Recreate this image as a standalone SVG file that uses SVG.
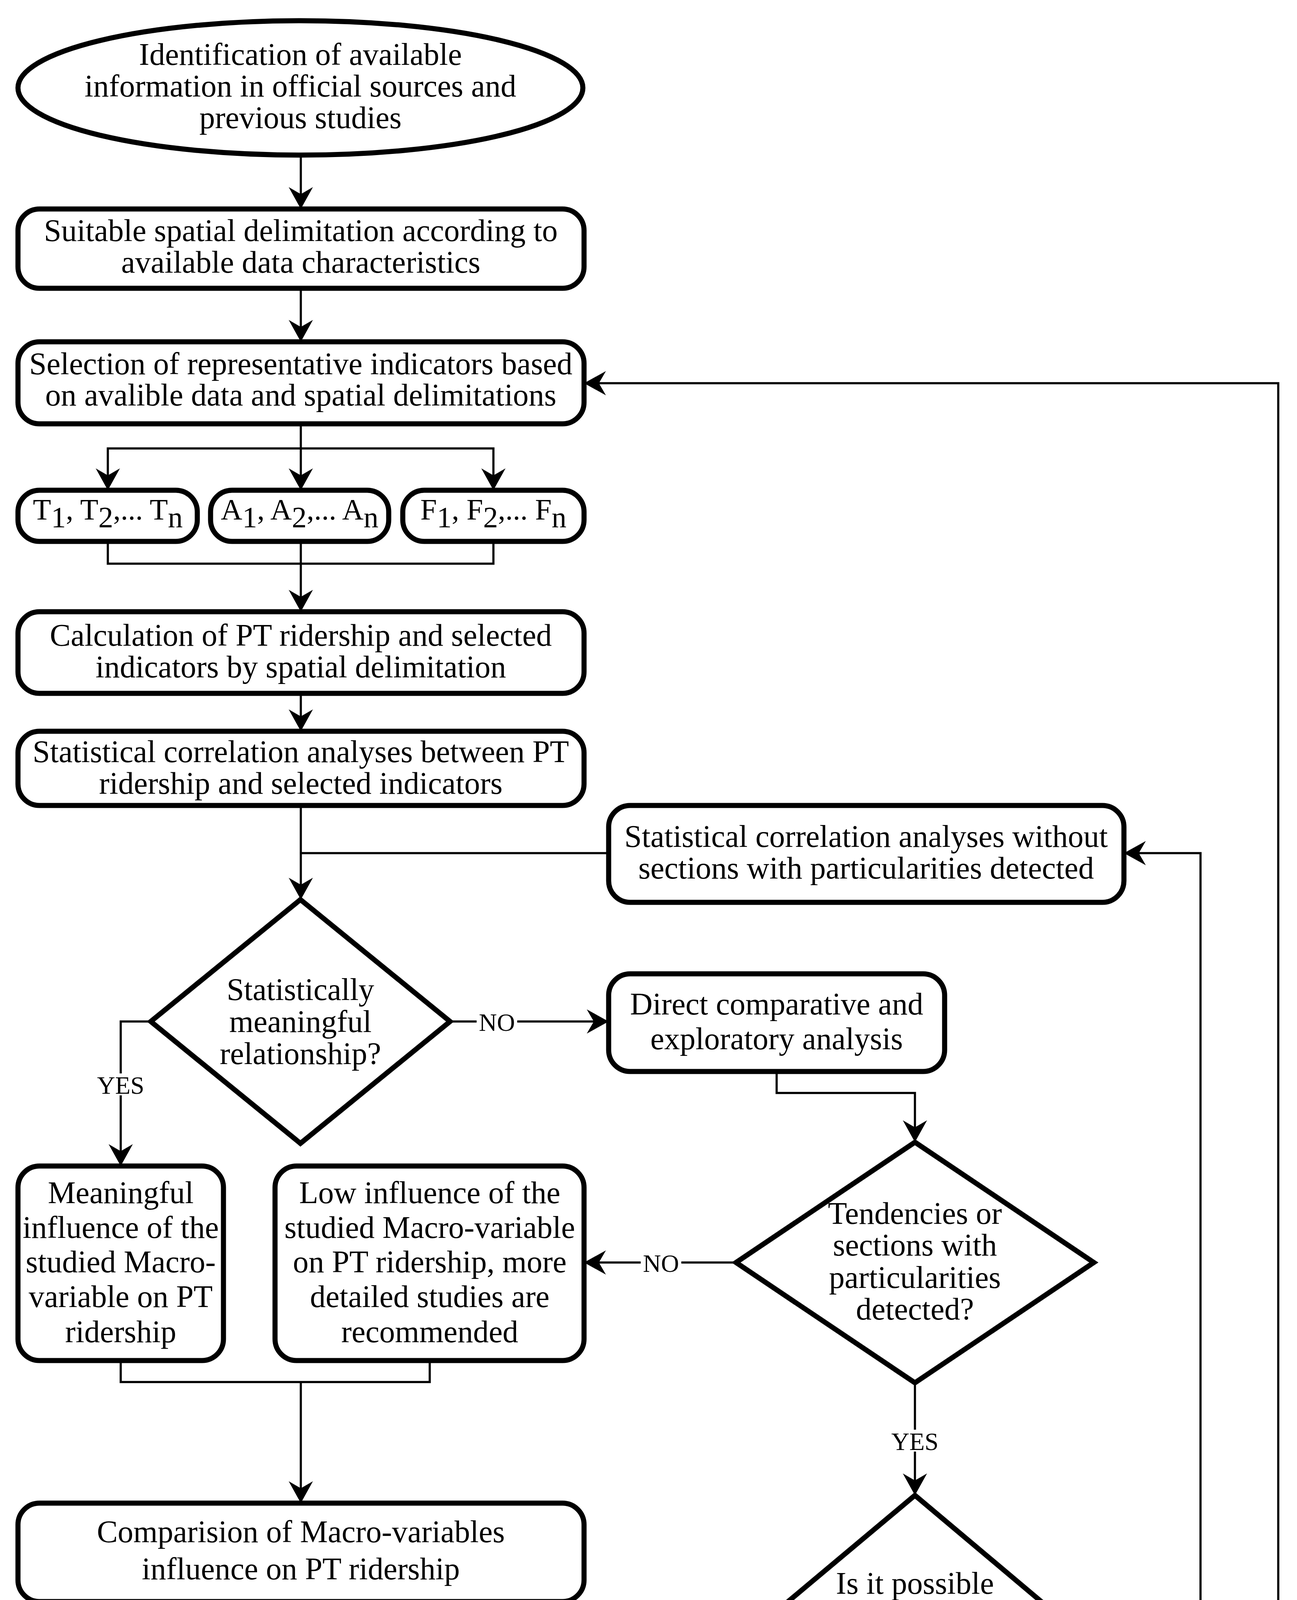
<svg xmlns="http://www.w3.org/2000/svg" width="3320" height="4724" viewBox="0 0 3320 4724">
<style>
.n{fill:#fff;stroke:#000;stroke-width:13}
.c{fill:none;stroke:#000;stroke-width:5.5}
.t{font-family:"Liberation Serif","Times New Roman",serif;font-size:80px;fill:#000;text-anchor:middle}
.s{font-size:76px}
.l{font-family:"Liberation Serif","Times New Roman",serif;font-size:64px;fill:#000;text-anchor:middle;dominant-baseline:central}
.bg{fill:#fff;stroke:none}
</style>
<defs>
<marker id="ah" markerUnits="userSpaceOnUse" viewBox="-60 -35 62 70" markerWidth="62" markerHeight="70" refX="0" refY="0" orient="auto">
<path d="M0,0 L-56,-31 L-38,0 L-56,31 Z" fill="#000"/>
</marker>
</defs>
<rect width="3320" height="4724" fill="#fff"/>
<g id="connectors">
<path class="c" d="M770,397 V535" marker-end="url(#ah)"/>
<path class="c" d="M770,738 V875" marker-end="url(#ah)"/>
<path class="c" d="M770,1085 V1255" marker-end="url(#ah)"/>
<path class="c" d="M770,1148 H276 V1255" marker-end="url(#ah)"/>
<path class="c" d="M770,1148 H1263 V1255" marker-end="url(#ah)"/>
<path class="c" d="M276,1386 V1443 H1263 V1386"/>
<path class="c" d="M770,1386 V1566" marker-end="url(#ah)"/>
<path class="c" d="M770,1775 V1872" marker-end="url(#ah)"/>
<path class="c" d="M770,2062 V2303" marker-end="url(#ah)"/>
<path class="c" d="M1558,2184 H770"/>
<path class="c" d="M1152,2615 H1558" marker-end="url(#ah)"/>
<path class="c" d="M386,2615 H309 V2985" marker-end="url(#ah)"/>
<path class="c" d="M1988,2743 V2798 H2342 V2924" marker-end="url(#ah)"/>
<path class="c" d="M1884,3232 H1495" marker-end="url(#ah)"/>
<path class="c" d="M2342,3540 V3828" marker-end="url(#ah)"/>
<path class="c" d="M309,3483 V3538 H1100 V3483"/>
<path class="c" d="M770,3538 V3848" marker-end="url(#ah)"/>
<path class="c" d="M770,4100 V4400" marker-end="url(#ah)"/>
<path class="c" d="M2802,4215 H3073 V2184 H2877" marker-end="url(#ah)"/>
<path class="c" d="M2342,4592 V4650 H3272 V981 H1495" marker-end="url(#ah)"/>
<g id="labels">
<rect class="bg" x="1220" y="2587" width="104" height="56"/>
<text class="l" x="1272" y="2617">NO</text>
<rect class="bg" x="243" y="2748" width="132" height="56"/>
<text class="l" x="309" y="2778">YES</text>
<rect class="bg" x="1640" y="3204" width="104" height="56"/>
<text class="l" x="1692" y="3234">NO</text>
<rect class="bg" x="2276" y="3660" width="132" height="56"/>
<text class="l" x="2342" y="3690">YES</text>
<rect class="bg" x="2882" y="4187" width="104" height="56"/>
<text class="l" x="2934" y="4217">NO</text>
<rect class="bg" x="2760" y="4622" width="132" height="56"/>
<text class="l" x="2826" y="4652">YES</text>
</g>
</g>
<g id="n1">
<ellipse class="n" cx="769" cy="225" rx="723" ry="172"/>
<text class="t" x="769" y="166">Identification of available</text>
<text class="t" x="769" y="247">information in official sources and</text>
<text class="t" x="769" y="328">previous studies</text>
</g>
<g id="n2">
<rect class="n" x="46" y="535" width="1449" height="203" rx="55"/>
<text class="t" x="770" y="617">Suitable spatial delimitation according to</text>
<text class="t" x="770" y="698">available data characteristics</text>
</g>
<g id="n3">
<rect class="n" x="46" y="875" width="1449" height="210" rx="55"/>
<text class="t" x="770" y="958">Selection of representative indicators based</text>
<text class="t" x="770" y="1038">on avalible data and spatial delimitations</text>
</g>
<g id="nT">
<rect class="n" x="46" y="1255" width="459" height="131" rx="55"/>
<text class="t s" x="276" y="1330">T<tspan dy="20">1</tspan><tspan dy="-20">, T</tspan><tspan dy="20">2</tspan><tspan dy="-20">,... T</tspan><tspan dy="20">n</tspan></text>
</g>
<g id="nA">
<rect class="n" x="539" y="1255" width="456" height="131" rx="55"/>
<text class="t s" x="767" y="1330">A<tspan dy="20">1</tspan><tspan dy="-20">, A</tspan><tspan dy="20">2</tspan><tspan dy="-20">,... A</tspan><tspan dy="20">n</tspan></text>
</g>
<g id="nF">
<rect class="n" x="1031" y="1255" width="464" height="131" rx="55"/>
<text class="t s" x="1263" y="1330">F<tspan dy="20">1</tspan><tspan dy="-20">, F</tspan><tspan dy="20">2</tspan><tspan dy="-20">,... F</tspan><tspan dy="20">n</tspan></text>
</g>
<g id="n4">
<rect class="n" x="46" y="1566" width="1449" height="209" rx="55"/>
<text class="t" x="770" y="1653">Calculation of PT ridership and selected</text>
<text class="t" x="770" y="1734">indicators by spatial delimitation</text>
</g>
<g id="n5">
<rect class="n" x="46" y="1872" width="1449" height="190" rx="55"/>
<text class="t" x="770" y="1951">Statistical correlation analyses between PT</text>
<text class="t" x="770" y="2032">ridership and selected indicators</text>
</g>
<g id="n6">
<rect class="n" x="1558" y="2062" width="1319" height="248" rx="55"/>
<text class="t" x="2217" y="2168">Statistical correlation analyses without</text>
<text class="t" x="2217" y="2249">sections with particularities detected</text>
</g>
<g id="n7">
<polygon class="n" points="769,2303 1152,2615 769,2927 386,2615"/>
<text class="t" x="769" y="2560">Statistically</text>
<text class="t" x="769" y="2642">meaningful</text>
<text class="t" x="769" y="2724">relationship?</text>
</g>
<g id="n8">
<rect class="n" x="1558" y="2493" width="860" height="250" rx="55"/>
<text class="t" x="1988" y="2597">Direct comparative and</text>
<text class="t" x="1988" y="2686">exploratory analysis</text>
</g>
<g id="n9">
<polygon class="n" points="2342,2924 2800,3232 2342,3540 1884,3232"/>
<text class="t" x="2342" y="3133">Tendencies or</text>
<text class="t" x="2342" y="3214">sections with</text>
<text class="t" x="2342" y="3297">particularities</text>
<text class="t" x="2342" y="3378">detected?</text>
</g>
<g id="n10">
<rect class="n" x="46" y="2985" width="526" height="498" rx="55"/>
<text class="t" x="309" y="3080">Meaningful</text>
<text class="t" x="309" y="3169">influence of the</text>
<text class="t" x="309" y="3257">studied Macro-</text>
<text class="t" x="309" y="3346">variable on PT</text>
<text class="t" x="309" y="3436">ridership</text>
</g>
<g id="n11">
<rect class="n" x="704" y="2985" width="791" height="498" rx="55"/>
<text class="t" x="1100" y="3080">Low influence of the</text>
<text class="t" x="1100" y="3169">studied Macro-variable</text>
<text class="t" x="1100" y="3257">on PT ridership, more</text>
<text class="t" x="1100" y="3346">detailed studies are</text>
<text class="t" x="1100" y="3436">recommended</text>
</g>
<g id="n12">
<rect class="n" x="46" y="3848" width="1449" height="252" rx="55"/>
<text class="t" x="770" y="3948">Comparision of Macro-variables</text>
<text class="t" x="770" y="4043">influence on PT ridership</text>
</g>
<g id="n13">
<ellipse class="n" cx="769" cy="4544" rx="726" ry="144"/>
<text class="t" x="769" y="4523">Implications for sustainable urban</text>
<text class="t" x="769" y="4606">mobility policies in the city</text>
</g>
<g id="n14">
<polygon class="n" points="2342,3828 2802,4215 2342,4592 1880,4215"/>
<text class="t" x="2342" y="4080">Is it possible</text>
<text class="t" x="2342" y="4162">to obtain indicators</text>
<text class="t" x="2342" y="4244">related to detected</text>
<text class="t" x="2342" y="4326">particularities</text>
<text class="t" x="2342" y="4410">in sections?</text>
</g>
</svg>
